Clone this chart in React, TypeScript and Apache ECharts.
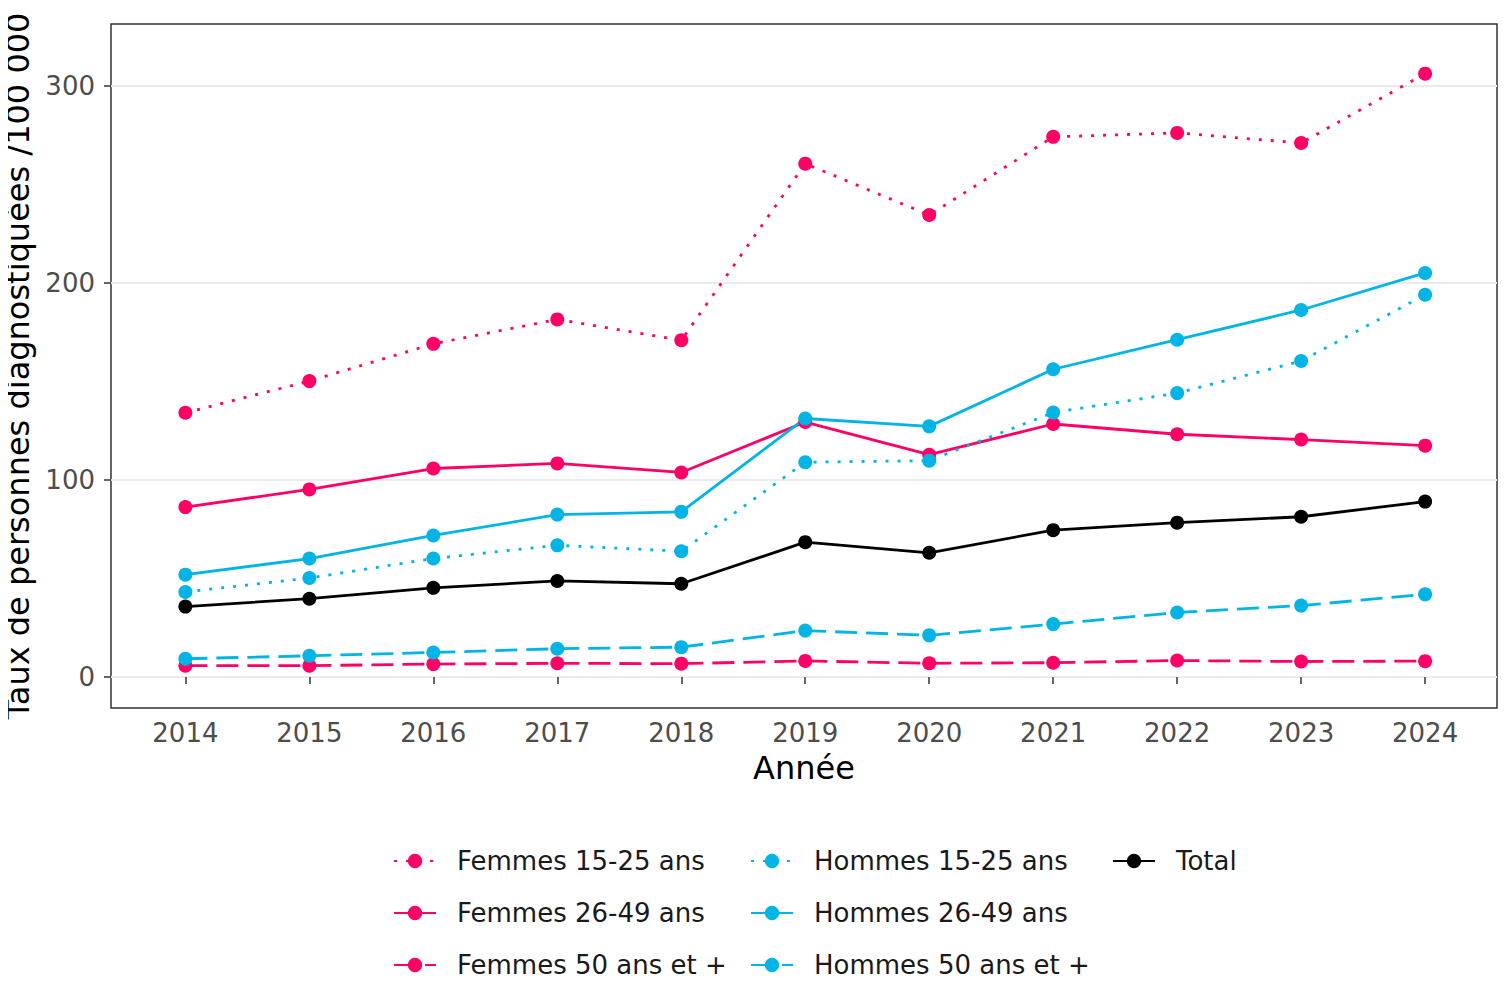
import React, { useEffect, useRef } from "react";
import * as echarts from "echarts";

const years = [2014, 2015, 2016, 2017, 2018, 2019, 2020, 2021, 2022, 2023, 2024];
const yTicks = [0, 100, 200, 300];

const femmes1525 = [134.2, 150.3, 169.2, 181.6, 171.0, 260.7, 234.6, 274.3, 276.3, 271.2, 306.4];
const femmes2649 = [86.3, 95.3, 105.9, 108.5, 103.9, 129.5, 112.9, 128.5, 123.3, 120.6, 117.5];
const femmes50 = [5.8, 5.8, 6.6, 7.0, 6.8, 8.2, 7.0, 7.3, 8.4, 7.9, 8.1];
const hommes1525 = [43.2, 50.3, 60.2, 66.9, 63.9, 109.1, 109.9, 134.3, 144.2, 160.5, 194.1];
const hommes2649 = [52.0, 60.2, 71.9, 82.5, 83.9, 131.3, 127.3, 156.3, 171.3, 186.4, 205.2];
const hommes50 = [9.3, 10.8, 12.5, 14.4, 15.2, 23.6, 21.2, 26.9, 32.8, 36.3, 42.0];
const total = [35.8, 39.8, 45.3, 48.8, 47.4, 68.5, 63.1, 74.6, 78.4, 81.4, 89.1];

const PINK = "#FF0066";
const CYAN = "#00B5E6";
const BLACK = "#000000";
const DOT = [3, 9];
const DASH = [22, 9];
const FONT = "DejaVu Sans";

const seriesDefs = [
  { name: "Femmes 15-25 ans", values: femmes1525, color: PINK, dash: DOT },
  { name: "Femmes 26-49 ans", values: femmes2649, color: PINK, dash: "solid" },
  { name: "Femmes 50 ans et +", values: femmes50, color: PINK, dash: DASH },
  { name: "Hommes 15-25 ans", values: hommes1525, color: CYAN, dash: DOT },
  { name: "Hommes 26-49 ans", values: hommes2649, color: CYAN, dash: "solid" },
  { name: "Hommes 50 ans et +", values: hommes50, color: CYAN, dash: DASH },
  { name: "Total", values: total, color: BLACK, dash: "solid" },
];

const legendCommon = {
  orient: "vertical" as const,
  top: 848,
  padding: 0,
  itemWidth: 42,
  itemHeight: 18,
  itemGap: 26,
  selectedMode: false,
  textStyle: {
    fontSize: 26,
    fontFamily: FONT,
    color: "#1A1A1A",
    lineHeight: 26,
    padding: [0, 0, 0, 16],
  },
};

export default function App() {
  const ref = useRef<HTMLDivElement>(null);
  useEffect(() => {
    if (!ref.current) return;
    const chart = echarts.init(ref.current, null, { renderer: "svg" });
    chart.setOption({
      animation: false,
      backgroundColor: "#FFFFFF",
      grid: {
        left: 111,
        right: 9,
        top: 24,
        bottom: 284,
        show: true,
        borderColor: "#333333",
        borderWidth: 1.5,
        backgroundColor: "transparent",
        containLabel: false,
        outerBoundsMode: "none",
      },
      xAxis: {
        type: "value",
        min: 2013.4,
        max: 2024.58,
        name: "Année",
        nameLocation: "middle",
        nameGap: 44,
        nameTextStyle: { fontSize: 32, fontFamily: FONT, color: "#000000" },
        axisLine: { show: false },
        axisTick: {
          show: true,
          length: 7,
          customValues: years,
          lineStyle: { color: "#333333", width: 1.5 },
        },
        axisLabel: {
          customValues: years,
          fontSize: 26,
          fontFamily: FONT,
          color: "#4D4D4D",
          margin: 12,
          formatter: (v: number) => String(v),
        },
        splitLine: { show: false },
      },
      yAxis: {
        type: "value",
        min: -15.7,
        max: 331.6,
        name: "Taux de personnes diagnostiquées /100 000",
        nameLocation: "middle",
        nameGap: 74,
        nameRotate: 90,
        nameTextStyle: { fontSize: 32, fontFamily: FONT, color: "#000000" },
        axisLine: { show: false },
        axisTick: {
          show: true,
          length: 7,
          customValues: yTicks,
          lineStyle: { color: "#333333", width: 1.5 },
        },
        axisLabel: {
          customValues: yTicks,
          fontSize: 26,
          fontFamily: FONT,
          color: "#4D4D4D",
          margin: 16,
        },
        splitLine: {
          show: true,
          customValues: yTicks,
          lineStyle: { color: "#EBEBEB", width: 2 },
        },
      },
      legend: [
        { ...legendCommon, left: 393, data: seriesDefs.slice(0, 3).map((s) => s.name) },
        { ...legendCommon, left: 750, data: seriesDefs.slice(3, 6).map((s) => s.name) },
        { ...legendCommon, left: 1112, data: seriesDefs.slice(6).map((s) => s.name) },
      ],
      series: seriesDefs.map((s) => ({
        name: s.name,
        type: "line",
        data: years.map((y, i) => [y, s.values[i]]),
        symbol: "circle",
        symbolSize: 14,
        showSymbol: true,
        itemStyle: { color: s.color },
        lineStyle: { color: s.color, width: 2.8, type: s.dash },
        emphasis: { disabled: true },
        z: 2,
      })),
    });
    return () => chart.dispose();
  }, []);
  return <div ref={ref} style={{ width: 1506, height: 992, margin: -8 }} />;
}
